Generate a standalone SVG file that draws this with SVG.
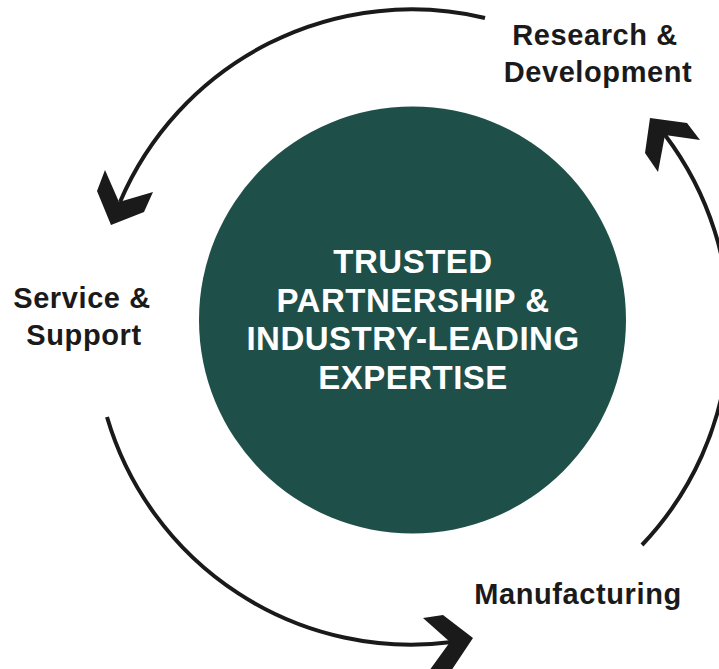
<svg xmlns="http://www.w3.org/2000/svg" width="719" height="669" viewBox="0 0 719 669">
  <style>
    .lbl { font-family: "Liberation Sans", Arial, sans-serif; font-weight: bold; font-size: 29px; fill: #1a1a1a; text-anchor: middle; letter-spacing: 0.6px; }
    .core { font-family: "Liberation Sans", Arial, sans-serif; font-weight: bold; font-size: 33px; fill: #ffffff; text-anchor: middle; letter-spacing: 0.5px; }
    .arc { fill: none; stroke: #1a1a1a; stroke-width: 4; }
    .head { fill: #1a1a1a; }
  </style>
  <rect width="719" height="669" fill="#ffffff"/>
  <g id="connectors">
    <path class="arc" d="M485,18 A317,317 0 0 0 120,202"/>
    <polygon class="head" points="105,170 97,191 111,225 144,212 153,192 119,202"/>
    <path class="arc" d="M107,417 A317,317 0 0 0 452,642"/>
    <polygon class="head" points="423,618 443,615 473,638 449,674 429,671 450,642"/>
    <path class="arc" d="M642,545 A317,317 0 0 0 665,135"/>
    <polygon class="head" points="650,118 687,123 700,140 665,135 658,172 645,153"/>
  </g>
  <g id="core">
    <circle cx="412.5" cy="320" r="213.5" fill="#1f4f49"/>
    <text class="core" x="413" y="273">TRUSTED</text>
    <text class="core" x="413" y="311.5">PARTNERSHIP &amp;</text>
    <text class="core" x="413" y="350">INDUSTRY-LEADING</text>
    <text class="core" x="413" y="388.5">EXPERTISE</text>
  </g>
  <g id="research">
    <text class="lbl" x="595" y="45">Research &amp;</text>
    <text class="lbl" x="598" y="82">Development</text>
  </g>
  <g id="service">
    <text class="lbl" x="82" y="308">Service &amp;</text>
    <text class="lbl" x="84" y="345">Support</text>
  </g>
  <g id="manufacturing">
    <text class="lbl" x="578" y="604">Manufacturing</text>
  </g>
</svg>
